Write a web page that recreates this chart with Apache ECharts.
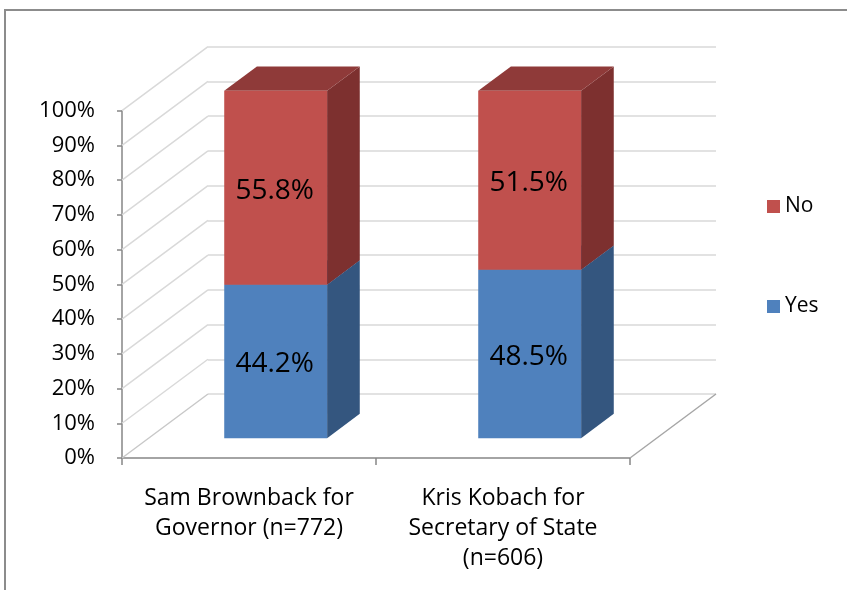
<!DOCTYPE html>
<html>
<head>
<meta charset="utf-8">
<script src="https://cdn.jsdelivr.net/npm/echarts@6/dist/echarts.min.js"></script>
<style>
html,body{margin:0;padding:0;background:#fff;}
#chart{width:847px;height:590px;}
</style>
</head>
<body>
<div id="chart"></div>
<script>
// ---- data ----
var categories = ['Sam Brownback for\nGovernor (n=772)', 'Kris Kobach for\nSecretary of State\n(n=606)'];
var yesValues = [44.2, 48.5];
var noValues = [55.8, 51.5];
var yTicks = [0, 10, 20, 30, 40, 50, 60, 70, 80, 90, 100];
var seriesNames = ['No', 'Yes'];

// ---- style / geometry ----
var FONT = '"Open Sans", Lato, sans-serif';
var D = [86, -64];          // depth vector of the 3D box
var D0 = 0.31, D1 = 0.69;   // bar depth span (fraction of box depth)
var BAR_RATIO = 0.405;
var COLORS = {
  Yes: {front: '#4F81BD', side: '#34567F', top: '#3C649A'},
  No:  {front: '#C0504D', side: '#7D302F', top: '#8F3A39'}
};

function renderBar(params, api) {
  var ci = api.value(0), base = api.value(1), top = api.value(2);
  var name = params.seriesName;
  var c = COLORS[name];
  var pB = api.coord([ci, base]);
  var pT = api.coord([ci, top]);
  var bw = api.size([1, 0])[0] * BAR_RATIO;
  var x0 = pB[0] - bw / 2 + D[0] * D0;
  var yb = pB[1] + D[1] * D0;
  var yt = pT[1] + D[1] * D0;
  var dx = D[0] * (D1 - D0), dy = D[1] * (D1 - D0);
  var x1 = x0 + bw;
  return {
    type: 'group',
    children: [
      {type: 'polygon', shape: {points: [[x1, yb], [x1 + dx, yb + dy], [x1 + dx, yt + dy], [x1, yt]]}, style: {fill: c.side}},
      {type: 'polygon', shape: {points: [[x0, yt], [x0 + dx, yt + dy], [x1 + dx, yt + dy], [x1, yt]]}, style: {fill: c.top}},
      {type: 'rect', shape: {x: x0, y: yt, width: bw, height: yb - yt}, style: {fill: c.front}},
      {type: 'text', x: x0 + bw / 2 - 1, y: (yt + yb) / 2 + 3, style: {
        text: (top - base).toFixed(1) + '%', fill: '#000', font: '28px ' + FONT,
        align: 'center', verticalAlign: 'middle'}}
    ]
  };
}

function renderDiag(params, api) {
  var v = api.value(0);
  var cs = params.coordSys;
  var y = api.coord([0, v])[1];
  var children = [{type: 'line', shape: {x1: cs.x, y1: y, x2: cs.x + D[0], y2: y + D[1]},
    style: {stroke: v === 0 ? '#c8c8c8' : '#d9d9d9', lineWidth: 1.5}}];
  if (v === 0) {
    children.push({type: 'line', shape: {x1: cs.x + cs.width, y1: y, x2: cs.x + cs.width + D[0], y2: y + D[1]},
      style: {stroke: '#a6a6a6', lineWidth: 1.5}});
  }
  return {type: 'group', children: children};
}

var yesData = categories.map(function (c, i) { return [i, 0, yesValues[i]]; });
var noData = categories.map(function (c, i) { return [i, yesValues[i], yesValues[i] + noValues[i]]; });

var chart = echarts.init(document.getElementById('chart'));
chart.setOption({
  animation: false,
  textStyle: {fontFamily: FONT},
  graphic: [{type: 'rect', shape: {x: 5, y: 10, width: 1000, height: 1000},
    style: {fill: 'none', stroke: '#8c8c8c', lineWidth: 2}, silent: true, z: -10}],
  grid: [
    {left: 122, right: 217, top: 110.7, bottom: 132},
    {left: 208, right: 131, top: 46.7, bottom: 196}
  ],
  xAxis: [
    {type: 'category', gridIndex: 0, data: categories,
      axisLine: {lineStyle: {color: '#868686', width: 1.5}},
      axisTick: {show: true, interval: 0, length: 7, lineStyle: {color: '#868686', width: 1.5}},
      axisLabel: {color: '#000', fontSize: 23, lineHeight: 30, margin: 25, interval: 0,
        hideOverlap: false, fontFamily: FONT}},
    {type: 'category', gridIndex: 1, data: categories, show: false}
  ],
  yAxis: [
    {type: 'value', gridIndex: 0, min: 0, max: 100, interval: 10,
      axisLine: {show: true, lineStyle: {color: '#868686', width: 1.5}},
      axisTick: {show: true, length: 5, lineStyle: {color: '#868686', width: 1.5}},
      splitLine: {show: false},
      axisLabel: {color: '#000', fontSize: 22, margin: 27, formatter: '{value}%', fontFamily: FONT}},
    {type: 'value', gridIndex: 1, min: 0, max: 100, interval: 10,
      axisLine: {show: false}, axisTick: {show: false}, axisLabel: {show: false},
      splitLine: {show: true, lineStyle: {color: '#d9d9d9', width: 1.5}}}
  ],
  legend: {
    orient: 'vertical', left: 762, top: 191, itemWidth: 13, itemHeight: 13, itemGap: 79,
    data: [{name: 'No', icon: 'rect'}, {name: 'Yes', icon: 'rect'}],
    textStyle: {color: '#000', fontSize: 21, fontFamily: FONT}
  },
  series: [
    {type: 'custom', name: 'diag', xAxisIndex: 0, yAxisIndex: 0, silent: true, z: 1,
      renderItem: renderDiag, data: yTicks.map(function (t) { return [t]; }), encode: {y: 0}},
    {type: 'custom', name: 'Yes', xAxisIndex: 0, yAxisIndex: 0, z: 3,
      itemStyle: {color: COLORS.Yes.front}, renderItem: renderBar, data: yesData, encode: {x: 0, y: 2}},
    {type: 'custom', name: 'No', xAxisIndex: 0, yAxisIndex: 0, z: 4,
      itemStyle: {color: COLORS.No.front}, renderItem: renderBar, data: noData, encode: {x: 0, y: 2}}
  ]
});
</script>
</body>
</html>
